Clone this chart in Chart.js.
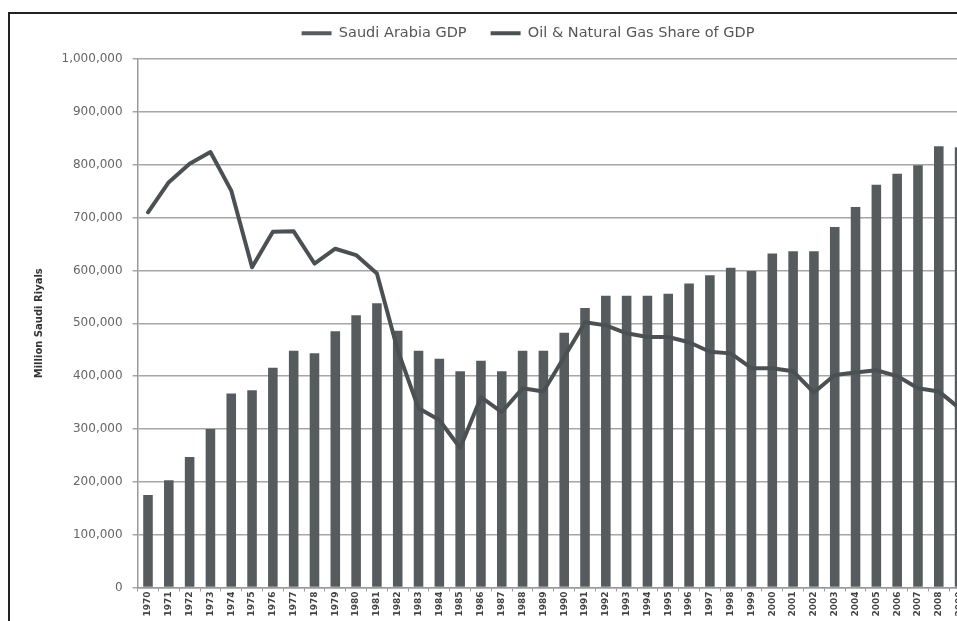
<!DOCTYPE html>
<html>
<head>
<meta charset="utf-8">
<script src="https://cdn.jsdelivr.net/npm/chart.js@4/dist/chart.umd.min.js"></script>
<style>
  html, body { margin: 0; padding: 0; background: #fff; overflow: hidden; }
  #wrap { position: relative; width: 957px; height: 621px; overflow: hidden; }
  #chart { position: absolute; left: 0; top: 0; }
  #frame { position: absolute; left: 8px; top: 12px; width: 1200px; height: 700px;
           border-left: 2px solid #222; border-top: 2px solid #222; pointer-events: none; }
</style>
</head>
<body>
<div id="wrap">
  <canvas id="chart" width="1056" height="621"></canvas>
  <div id="frame"></div>
</div>
<script>
// Years on the category axis
const years = ['1970','1971','1972','1973','1974','1975','1976','1977','1978','1979',
               '1980','1981','1982','1983','1984','1985','1986','1987','1988','1989',
               '1990','1991','1992','1993','1994','1995','1996','1997','1998','1999',
               '2000','2001','2002','2003','2004','2005','2006','2007','2008','2009'];

// Saudi Arabia GDP, million Saudi riyals
const gdp = [175000, 203000, 247000, 300000, 367000, 373000, 416000, 448000, 443000, 485000,
             515000, 538000, 486000, 448000, 433000, 409000, 429000, 409000, 448000, 448000,
             482000, 529000, 552000, 552000, 552000, 556000, 575000, 591000, 605000, 599000,
             632000, 636000, 636000, 682000, 720000, 762000, 783000, 799000, 835000, 833000];

// Oil & natural gas share of GDP, percent
const oilShare = [71.0, 76.7, 80.2, 82.4, 75.1, 60.6, 67.3, 67.4, 61.3, 64.1,
                  62.9, 59.4, 44.9, 33.9, 31.7, 26.4, 36.0, 33.2, 37.7, 37.1,
                  43.6, 50.2, 49.6, 48.1, 47.4, 47.4, 46.4, 44.6, 44.3, 41.5,
                  41.5, 40.9, 36.9, 40.2, 40.7, 41.1, 40.0, 37.7, 37.1, 33.9];

// Y axis tick values
const gdpTicks = [0, 100000, 200000, 300000, 400000, 500000, 600000, 700000, 800000, 900000, 1000000];

const barColor = '#565c5e';
const lineColor = '#4b5153';
const fontFamily = '"DejaVu Sans", "Liberation Sans", sans-serif';

// Empty layout boxes: a gap under the legend and a margin right of the plot
function spacer(position, weight, size) {
  const horizontal = position === 'top' || position === 'bottom';
  return {
    position, weight, fullSize: false, options: {},
    left: 0, top: 0, right: 0, bottom: 0, width: 0, height: 0,
    isHorizontal() { return horizontal; },
    update(maxWidth, maxHeight) {
      if (horizontal) { this.width = maxWidth; this.height = size; }
      else { this.width = size; this.height = maxHeight; }
    },
    draw() {}
  };
}
const spacers = {
  id: 'spacers',
  beforeInit(chart) {
    Chart.layouts.addBox(chart, spacer('top', 500, 8.5));
    Chart.layouts.addBox(chart, spacer('right', 500, 86));
  }
};

new Chart(document.getElementById('chart'), {
  data: {
    labels: years,
    datasets: [
      {
        type: 'bar',
        label: 'Saudi Arabia GDP',
        data: gdp,
        yAxisID: 'y',
        backgroundColor: barColor,
        borderWidth: 0,
        barPercentage: 0.46,
        categoryPercentage: 1.0,
        order: 1
      },
      {
        type: 'line',
        label: 'Oil & Natural Gas Share of GDP',
        data: oilShare,
        yAxisID: 'share',
        borderColor: lineColor,
        backgroundColor: lineColor,
        borderWidth: 4,
        borderJoinStyle: 'round',
        borderCapStyle: 'round',
        pointRadius: 0,
        tension: 0,
        fill: false,
        order: 0
      }
    ]
  },
  options: {
    responsive: false,
    animation: false,
    devicePixelRatio: 1,
    layout: { padding: { top: 2, left: 0, right: 0, bottom: 0 } },
    plugins: {
      tooltip: { enabled: false },
      legend: {
        position: 'top',
        labels: {
          color: '#555',
          font: { family: fontFamily, size: 14.5 },
          boxWidth: 30,
          boxHeight: 4,
          padding: 24,
          sort: (a, b) => a.datasetIndex - b.datasetIndex,
          generateLabels(chart) {
            const items = Chart.defaults.plugins.legend.labels.generateLabels(chart);
            return items.map(it => Object.assign(it, { lineWidth: 0 }));
          }
        }
      }
    },
    scales: {
      x: {
        type: 'category',
        offset: true,
        grid: { display: true, drawOnChartArea: false, drawTicks: true, tickLength: 4, color: '#999', offset: true },
        border: { display: true, color: '#999', width: 1.5 },
        ticks: {
          autoSkip: false, maxRotation: 90, minRotation: 90, padding: 0,
          color: '#444', font: { family: fontFamily, size: 9, weight: 'bold' }
        },
        afterFit(scale) { scale.height = 33.5; }
      },
      y: {
        type: 'linear',
        position: 'left',
        min: 0,
        max: 1000000,
        afterBuildTicks(scale) { scale.ticks = gdpTicks.map(v => ({ value: v })); },
        grid: { color: '#a6a6a6', lineWidth: 1.5, tickLength: 5, drawTicks: true },
        border: { display: true, color: '#999', width: 1.5 },
        ticks: {
          padding: 10,
          color: '#666',
          font: { family: fontFamily, size: 12 },
          callback: v => Number(v).toLocaleString('en-US')
        },
        title: {
          display: true,
          text: 'Million Saudi Riyals',
          color: '#333',
          font: { family: fontFamily, size: 10, weight: 'bold' },
          padding: { top: 33, bottom: 0 }
        },
        afterFit(scale) { scale.width = 137.6; }
      },
      share: {
        type: 'linear',
        display: false,
        min: 0,
        max: 100
      }
    }
  },
  plugins: [spacers]
});
</script>
</body>
</html>
